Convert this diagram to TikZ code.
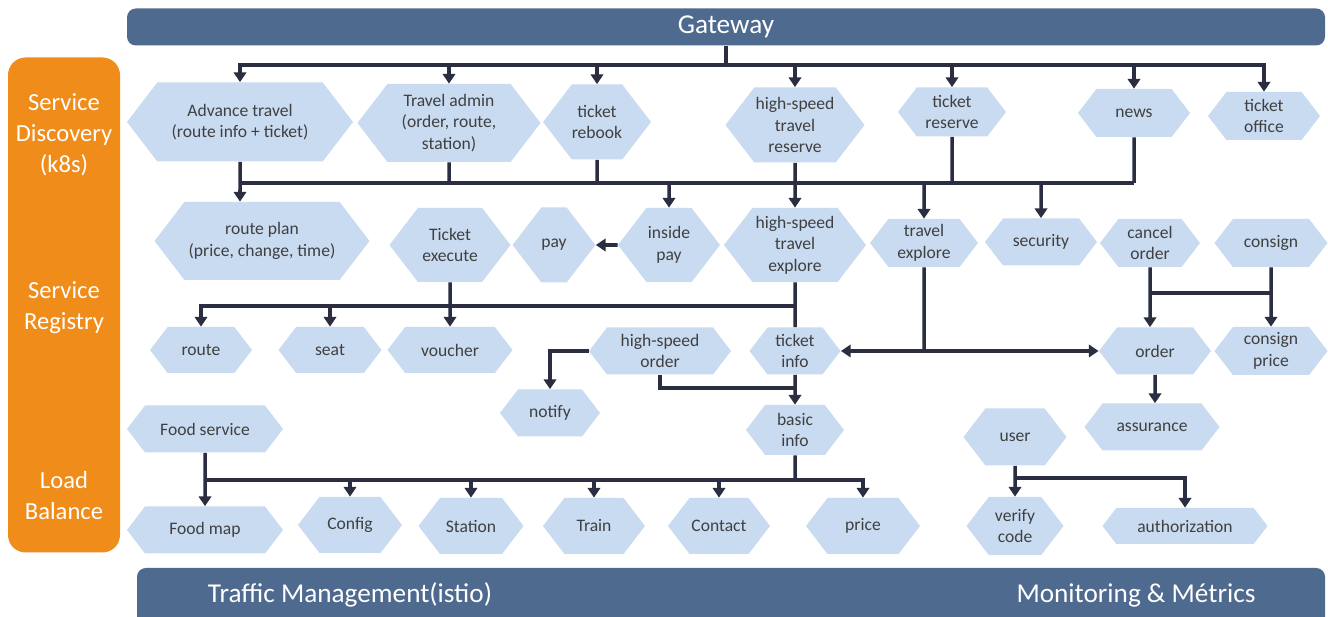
\documentclass[tikz,border=0pt]{standalone}
\usepackage{fontspec}
\setmainfont{Carlito}
\usetikzlibrary{shapes.symbols,arrows.meta}
\definecolor{barblue}{HTML}{4E6A8E}
\definecolor{sideorange}{HTML}{F08C1A}
\definecolor{hexblue}{HTML}{C9DBF1}
\definecolor{hextext}{HTML}{404040}
\definecolor{arrowc}{HTML}{2A2E40}
\begin{document}
\begin{tikzpicture}[x=0.02cm,y=-0.02cm,
  wh/.style 2 args={minimum width=#1*0.02cm,minimum height=#2*0.02cm},
  hex/.style={signal,signal to=west and east,signal pointer angle=105,
    fill=hexblue,text=hextext,align=center,inner sep=0pt,
    font=\fontsize{10}{12.2}\selectfont},
  bar/.style={fill=barblue,rounded corners=5pt,text=white,
    font=\fontsize{15.5}{18}\selectfont},
  side/.style={text=white,align=center,font=\fontsize{14}{17.6}\selectfont},
  line/.style={draw=arrowc,line width=2pt},
  arr/.style={line,-{Triangle[length=5.5pt,width=7pt]}}]
\useasboundingbox (0,0) rectangle (1328,617);
\fill[white] (0,0) rectangle (1328,617);
% bars
\node[bar,wh={1198}{37}] (0) at (726,27) {Gateway};
\node[bar,wh={1188}{64}] (37) at (731,600) {};
\node[side] (42) at (350,595) {\fontsize{15.5}{18}\selectfont Traffic Management(istio)};
\node[side] (43) at (1136,595) {\fontsize{15.5}{18}\selectfont Monitoring \& Métrics};
\node[fill=sideorange,rounded corners=10pt,wh={112}{495}] (38) at (64,305) {};
\node[side] (39) at (64,135) {Service\\Discovery\\(k8s)};
\node[side] (40) at (64,308) {Service\\Registry};
\node[side] (41) at (64,496) {Load\\Balance};
% first row
\node[hex,wh={226}{79}] (1) at (240,122) {Advance travel\\(route info + ticket)};
\node[hex,wh={183}{78}] (2) at (449,123) {Travel admin\\(order, route,\\station)};
\node[hex,wh={107}{75}] (3) at (597,122) {ticket\\rebook};
\node[hex,wh={139}{75}] (4) at (795,125) {high-speed\\travel\\reserve};
\node[hex,wh={108}{49}] (5) at (952,112) {ticket\\reserve};
\node[hex,wh={112}{48}] (6) at (1134,113) {news};
\node[hex,wh={112}{48}] (7) at (1264,116) {ticket\\office};
% second row
\node[hex,wh={215}{78}] (8) at (262,241) {route plan\\(price, change, time)};
\node[hex,wh={121}{74}] (9) at (450,245) {Ticket\\execute};
\node[hex,wh={78}{75}] (10) at (554,245) {pay};
\node[hex,wh={102}{74}] (11) at (669,245) {inside\\pay};
\node[hex,wh={142}{74}] (12) at (795,245) {high-speed\\travel\\explore};
\node[hex,wh={108}{48}] (13) at (924,243) {travel\\explore};
\node[hex,wh={112}{47}] (14) at (1041,242) {security};
\node[hex,wh={100}{48}] (15) at (1150,243) {cancel\\order};
\node[hex,wh={113}{48}] (16) at (1271,243) {consign};
% third row
\node[hex,wh={102}{46}] (17) at (201,350) {route};
\node[hex,wh={103}{46}] (18) at (330,350) {seat};
\node[hex,wh={125}{46}] (19) at (450,350) {voucher};
\node[hex,wh={142}{47}] (20) at (660,351) {high-speed\\order};
\node[hex,wh={91}{47}] (21) at (795,351) {ticket\\info};
\node[hex,wh={112}{47}] (22) at (1155,351) {order};
\node[hex,wh={113}{48}] (23) at (1271,351) {consign\\price};
% fourth row
\node[hex,wh={156}{47}] (24) at (205,429) {Food service};
\node[hex,wh={100}{47}] (25) at (550,413) {notify};
\node[hex,wh={98}{50}] (26) at (795,430) {basic\\info};
\node[hex,wh={103}{57}] (27) at (1015,437) {user};
\node[hex,wh={135}{47}] (28) at (1152,427) {assurance};
% last row
\node[hex,wh={156}{47}] (29) at (205,530) {Food map};
\node[hex,wh={104}{56}] (30) at (350,525) {Config};
\node[hex,wh={105}{56}] (31) at (471,526) {Station};
\node[hex,wh={102}{56}] (32) at (594,526) {Train};
\node[hex,wh={102}{56}] (33) at (719,526) {Contact};
\node[hex,wh={114}{56}] (34) at (863,526) {price};
\node[hex,wh={97}{58}] (35) at (1015,526) {verify\\code};
\node[hex,wh={165}{36}] (36) at (1185,526) {authorization};
% gateway
\coordinate (b1) at (726,65);
\draw[line] (0) -- (b1);
\draw[arr] (b1) -| (1);
\draw[arr] (b1) -| (2);
\draw[arr] (b1) -| (3);
\draw[arr] (b1) -| (4);
\draw[arr] (b1) -| (5);
\draw[arr] (b1) -| (6);
\draw[arr] (b1) -| (7);
% discovery bus
\coordinate (b2) at (240,183);
\draw[line] (b2) -- (6 |- b2);
\draw[line] (2) -- (2 |- b2);
\draw[line] (3) -- (3 |- b2);
\draw[line] (5) -- (5 |- b2);
\draw[line] (6) -- (6 |- b2);
\draw[arr] (1) -- (1 |- 8.north);
\draw[arr] (4) -- (12);
\draw[arr] (11 |- b2) -- (11);
\draw[arr] (13 |- b2) -- (13);
\draw[arr] (14 |- b2) -- (14);
\draw[arr] (11) -- (10);
% registry bus
\coordinate (b3) at (795,306);
\draw[line] (12) -- (21);
\draw[arr] (b3) -| (17);
\draw[arr] (18 |- b3) -- (18);
\draw[arr] (9) -- (19);
\draw[line] (13) -- (13 |- 22);
\draw[arr] (13 |- 22) -- (21);
\draw[arr] (13 |- 22) -- (22);
\coordinate (b5) at (1150,293);
\draw[arr] (15) -- (15 |- 22.north);
\draw[arr] (16) -- (23);
\draw[line] (b5) -- (16 |- b5);
\draw[arr] (20.west) -| (25);
\coordinate (b6) at (795,388);
\draw[line] (20.south) |- (b6);
\draw[arr] (21) -- (26);
\draw[arr] (22) -- (22 |- 28.north);
% user
\coordinate (b7) at (1015,478);
\draw[arr] (27) -- (35);
\draw[arr] (b7) -| (36);
% food and basic info bus
\coordinate (b8) at (205,480);
\draw[arr] (24) -- (29);
\draw[line] (26) -- (26 |- b8);
\draw[arr] (b8) -| (30);
\draw[arr] (b8) -| (31);
\draw[arr] (b8) -| (32);
\draw[arr] (b8) -| (33);
\draw[arr] (b8) -| (34);
\end{tikzpicture}
\end{document}
